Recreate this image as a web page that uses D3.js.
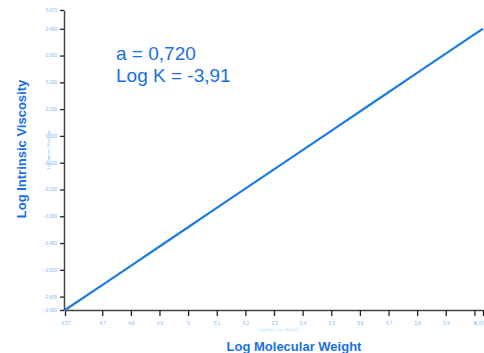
<!DOCTYPE html>
<html>
<head>
<meta charset="utf-8">
<script src="https://cdn.jsdelivr.net/npm/d3@7"></script>
<style>
  body { margin: 0; background: #fff; }
  svg { display: block; font-family: "Liberation Sans", Arial, sans-serif; }
</style>
</head>
<body>
<div id="chart"></div>
<script>
// values
const logMW = [4.57, 4.7, 4.8, 4.9, 5.0, 5.1, 5.2, 5.3, 5.4, 5.5, 5.6, 5.7, 5.8, 5.9, 6.0, 6.03];
const logIV = [-0.65, -0.557, -0.485, -0.413, -0.341, -0.269, -0.197, -0.125, -0.053, 0.019, 0.091, 0.163, 0.235, 0.307, 0.379, 0.40];
const xTicks = [4.57, 4.7, 4.8, 4.9, 5.0, 5.1, 5.2, 5.3, 5.4, 5.5, 5.6, 5.7, 5.8, 5.9, 6.0, 6.03];
const yTicks = [-0.65, -0.6, -0.5, -0.4, -0.3, -0.2, -0.1, 0.0, 0.1, 0.2, 0.3, 0.4, 0.47];
const fitLines = ['a = 0,720', 'Log K = -3,91'];

const width = 484, height = 353;
const margin = { top: 10, right: 1, bottom: 43, left: 64 };

const svg = d3.select('#chart').append('svg')
  .attr('width', width)
  .attr('height', height);

const x = d3.scaleLinear()
  .domain([4.57, 6.03])
  .range([margin.left + 1, width - margin.right]);

const y = d3.scaleLinear()
  .domain([-0.65, 0.47])
  .range([height - margin.bottom, margin.top]);

const tickColor = '#7ab8ff';
const blue = '#1a6fe6';

// x axis
const xAxis = svg.append('g')
  .attr('transform', 'translate(0,' + y(-0.65) + ')')
  .call(d3.axisBottom(x).tickValues(xTicks).tickSize(6).tickSizeOuter(0)
    .tickFormat(d3.format('.2~f')));
xAxis.select('.domain').attr('stroke', '#444').attr('stroke-width', 1.5);
xAxis.selectAll('.tick line').attr('stroke', '#222').attr('stroke-width', 1.3);
xAxis.selectAll('text').attr('fill', tickColor).attr('font-size', 4.5).attr('dy', '1.4em');
xAxis.selectAll('.tick:last-of-type text').attr('text-anchor', 'end');

// y axis
const yAxis = svg.append('g')
  .attr('transform', 'translate(' + margin.left + ',0)')
  .call(d3.axisLeft(y).tickValues(yTicks).tickSize(4).tickSizeOuter(0)
    .tickFormat(d3.format('.3f')));
yAxis.select('.domain').attr('stroke', '#444').attr('stroke-width', 1.5);
yAxis.selectAll('.tick line').attr('stroke', '#222').attr('stroke-width', 1.3);
yAxis.selectAll('text').attr('fill', tickColor).attr('font-size', 4.5);

// data line
svg.append('path')
  .datum(logMW.map((d, i) => [d, logIV[i]]))
  .attr('fill', 'none')
  .attr('stroke', '#1c7ce6')
  .attr('stroke-width', 2.2)
  .attr('d', d3.line().x(d => x(d[0])).y(d => y(d[1])));

// fit parameters
svg.append('g').selectAll('text')
  .data(fitLines)
  .join('text')
  .attr('x', 116)
  .attr('y', (d, i) => 60 + i * 22)
  .attr('fill', blue)
  .attr('font-size', 19)
  .text(d => d);

// axis titles
svg.append('text')
  .attr('x', 294)
  .attr('y', 351)
  .attr('text-anchor', 'middle')
  .attr('fill', blue)
  .attr('font-size', 13)
  .attr('font-weight', 'bold')
  .text('Log Molecular Weight');

svg.append('text')
  .attr('transform', 'translate(26,' + 149 + ') rotate(-90)')
  .attr('text-anchor', 'middle')
  .attr('fill', blue)
  .attr('font-size', 13)
  .attr('font-weight', 'bold')
  .text('Log Intrinsic Viscosity');

// tiny faint inner titles
svg.append('text')
  .attr('transform', 'translate(50,' + 150 + ') rotate(-90)')
  .attr('text-anchor', 'middle')
  .attr('fill', tickColor)
  .attr('font-size', 4)
  .text('Log Intrinsic Viscosity');

svg.append('text')
  .attr('x', 278)
  .attr('y', 331)
  .attr('text-anchor', 'middle')
  .attr('fill', tickColor)
  .attr('font-size', 4)
  .attr('opacity', 0.5)
  .text('Log Molecular Weight');
</script>
</body>
</html>
